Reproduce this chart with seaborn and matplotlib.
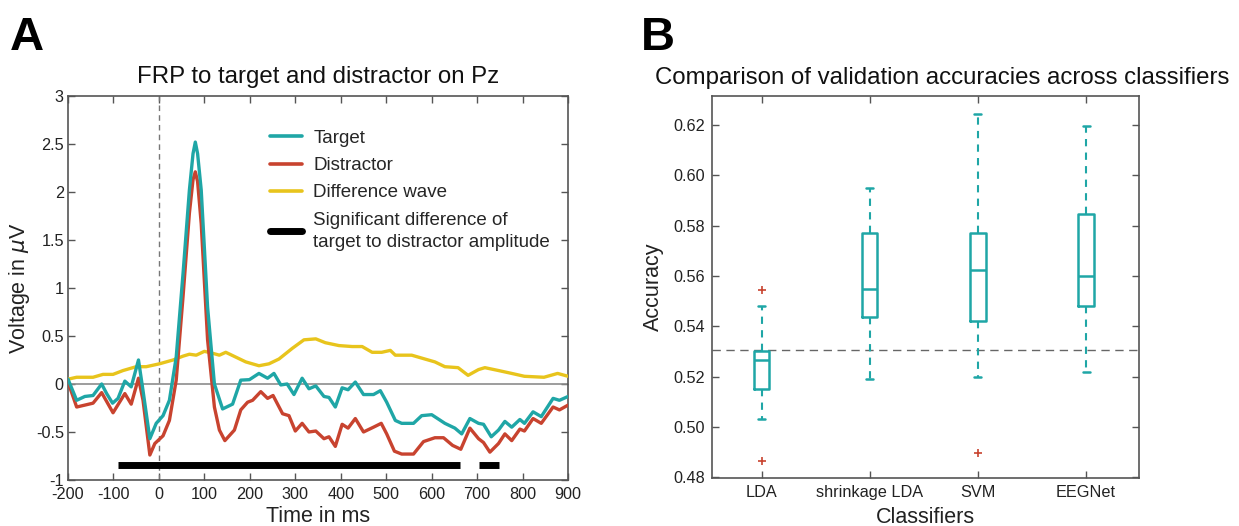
import numpy as np
import pandas as pd
import matplotlib
matplotlib.use("Agg")
import matplotlib.pyplot as plt
from matplotlib.lines import Line2D
import seaborn as sns

# ---- panel A: FRP curves ----
t_target = [-200, -181, -163, -145, -126, -115, -102, -90, -75, -61, -45, -35, -20, -6, 9, 23,
            38, 53, 67, 75, 80, 85, 93, 107, 122, 140, 162, 180, 199, 220, 239, 253, 268, 282,
            297, 315, 330, 345, 363, 374, 388, 403, 416, 432, 450, 472, 487, 501, 520, 534,
            560, 578, 600, 629, 651, 666, 684, 703, 714, 731, 747, 761, 776, 794, 804, 823,
            841, 867, 881, 900]
v_target = [0.05, -0.17, -0.13, -0.12, 0.0, -0.10, -0.20, -0.15, 0.03, -0.03, 0.25, -0.07, -0.57,
            -0.41, -0.33, -0.17, 0.28, 1.15, 2.02, 2.40, 2.52, 2.40, 2.02, 0.80, 0.0, -0.26, -0.21,
            0.04, 0.045, 0.11, 0.06, 0.11, -0.01, 0.0, -0.11, 0.06, -0.05, -0.02, -0.13, -0.14,
            -0.24, -0.04, -0.06, 0.02, -0.11, -0.11, -0.07, -0.19, -0.38, -0.41, -0.41, -0.33,
            -0.32, -0.41, -0.46, -0.52, -0.36, -0.41, -0.42, -0.55, -0.48, -0.39, -0.45, -0.37,
            -0.41, -0.29, -0.34, -0.15, -0.17, -0.13]

t_distr = [-200, -181, -163, -145, -126, -101, -75, -61, -45, -35, -20, -9, 9, 23, 38, 53, 67,
           75, 80, 85, 93, 107, 122, 133, 145, 166, 180, 195, 206, 224, 239, 251, 272, 286, 300,
           315, 330, 345, 363, 374, 388, 403, 416, 432, 450, 472, 489, 501, 518, 534, 560, 582,
           607, 626, 646, 664, 684, 703, 714, 728, 747, 761, 776, 794, 804, 823, 841, 867, 881,
           900]
v_distr = [0.02, -0.24, -0.22, -0.20, -0.09, -0.30, -0.10, -0.21, 0.06, -0.17, -0.74, -0.62,
           -0.54, -0.38, 0.04, 0.91, 1.78, 2.13, 2.21, 2.11, 1.67, 0.46, -0.24, -0.48, -0.59,
           -0.48, -0.27, -0.19, -0.17, -0.08, -0.15, -0.12, -0.31, -0.33, -0.49, -0.41, -0.50,
           -0.49, -0.57, -0.55, -0.65, -0.42, -0.46, -0.36, -0.50, -0.45, -0.41, -0.52, -0.70,
           -0.73, -0.73, -0.60, -0.56, -0.56, -0.64, -0.68, -0.46, -0.57, -0.61, -0.71, -0.62,
           -0.52, -0.59, -0.47, -0.49, -0.36, -0.41, -0.24, -0.27, -0.22]

t_diff = [-200, -181, -145, -123, -101, -79, -50, -28, 1, 31, 53, 67, 82, 100, 118, 133, 147,
          169, 191, 220, 242, 264, 293, 319, 345, 366, 396, 425, 447, 469, 490, 509, 520, 556,
          585, 607, 629, 658, 680, 703, 717, 747, 776, 804, 847, 877, 900]
v_diff = [0.05, 0.07, 0.07, 0.10, 0.10, 0.14, 0.18, 0.18, 0.21, 0.25, 0.29, 0.31, 0.30, 0.34,
          0.32, 0.30, 0.33, 0.28, 0.23, 0.19, 0.21, 0.26, 0.37, 0.46, 0.47, 0.43, 0.40, 0.39,
          0.39, 0.33, 0.33, 0.35, 0.30, 0.30, 0.26, 0.23, 0.18, 0.17, 0.09, 0.15, 0.17, 0.14,
          0.11, 0.08, 0.07, 0.11, 0.08]

sig_start = [-90, 704]
sig_end = [663, 747]
sig_level = -0.84

# ---- panel B: classifier accuracies (box statistics) ----
classifiers = ["LDA", "shrinkage LDA", "SVM", "EEGNet"]
whisker_low = [0.503, 0.519, 0.520, 0.522]
q1 = [0.515, 0.5435, 0.542, 0.548]
median = [0.5265, 0.555, 0.5625, 0.560]
q3 = [0.530, 0.577, 0.577, 0.5845]
whisker_high = [0.548, 0.595, 0.6245, 0.6195]
outliers = [[0.5545, 0.4865], [], [0.4895], []]
chance_level = 0.5307

teal = "#1fa6a6"
red = "#c8432f"
yellow = "#e8c41c"

sns.set_theme(style="ticks")
plt.rcParams["font.family"] = ["Liberation Sans", "DejaVu Sans"]
plt.rcParams["axes.edgecolor"] = "#555555"
plt.rcParams["axes.linewidth"] = 1.2
plt.rcParams["axes.unicode_minus"] = False

fig = plt.figure(figsize=(12.39, 5.26), dpi=100)
axA = fig.add_axes([0.0549, 0.0875, 0.4036, 0.730])
axB = fig.add_axes([0.5747, 0.0913, 0.3446, 0.726])

# panel A
axA.axhline(0, color="#8c8c8c", lw=1.2, zorder=1)
axA.axvline(0, color="#777777", lw=1.0, ls=(0, (4, 3)), zorder=1)
sns.lineplot(x=t_diff, y=v_diff, ax=axA, color=yellow, lw=2.4, zorder=3)
sns.lineplot(x=t_distr, y=v_distr, ax=axA, color=red, lw=2.4, zorder=4)
sns.lineplot(x=t_target, y=v_target, ax=axA, color=teal, lw=2.4, zorder=5)
axA.hlines([sig_level] * len(sig_start), sig_start, sig_end, color="black", lw=5, zorder=6)

axA.set_xlim(-200, 900)
axA.set_ylim(-1, 3)
axA.set_xticks(np.arange(-200, 901, 100))
axA.set_yticks([-1, -0.5, 0, 0.5, 1, 1.5, 2, 2.5, 3])
axA.set_yticklabels(["-1", "-0.5", "0", "0.5", "1", "1.5", "2", "2.5", "3"])
axA.tick_params(direction="in", top=True, right=True, length=5, width=1,
                labelsize=11.7, colors="#555555", labelcolor="#222222", pad=3)
axA.tick_params(axis="x", pad=5)
axA.set_xlabel("Time in ms", fontsize=15.5, color="#222222", labelpad=3)
axA.set_ylabel(r"Voltage in $\mu$V", fontsize=15.5, color="#222222", labelpad=3)
axA.set_title("FRP to target and distractor on Pz", fontsize=17.3, color="#111111", pad=9)

handles = [Line2D([], [], color=teal, lw=2.6),
           Line2D([], [], color=red, lw=2.6),
           Line2D([], [], color=yellow, lw=2.6),
           Line2D([], [], color="black", lw=5)]
labels = ["Target", "Distractor", "Difference wave",
          "Significant difference of\ntarget to distractor amplitude"]
leg = axA.legend(handles, labels, loc="upper left", bbox_to_anchor=(0.404, 0.912), frameon=False,
                 fontsize=13.5, handlelength=1.7, handletextpad=0.6, labelspacing=0.54,
                 borderaxespad=0, borderpad=0)
leg.get_texts()[3].set_linespacing(1.4)

# panel B
positions = [1, 2, 3, 4]
stats = []
for i, name in enumerate(classifiers):
    stats.append(dict(label=name, whislo=whisker_low[i], q1=q1[i], med=median[i],
                      q3=q3[i], whishi=whisker_high[i], fliers=outliers[i]))
axB.bxp(stats, positions=positions, widths=0.14, showfliers=True,
        boxprops=dict(color=teal, lw=1.8),
        medianprops=dict(color=teal, lw=1.8),
        whiskerprops=dict(color=teal, lw=1.5, ls=(0, (3.5, 3))),
        capprops=dict(color=teal, lw=1.8),
        capwidths=0.065,
        flierprops=dict(marker="+", markeredgecolor=red, markersize=5.5, markeredgewidth=1.2))
axB.axhline(chance_level, color="#666666", lw=1.0, ls=(0, (6, 4)), zorder=0)

axB.set_xlim(0.54, 4.49)
axB.set_ylim(0.4797, 0.6315)
axB.set_yticks(np.arange(0.48, 0.621, 0.02))
axB.set_yticklabels([f"{v:.2f}" for v in np.arange(0.48, 0.621, 0.02)])
axB.set_xticks(positions)
axB.set_xticklabels(classifiers)
axB.tick_params(direction="in", top=True, right=True, length=5, width=1,
                labelsize=11.7, colors="#555555", labelcolor="#222222", pad=5)
axB.set_xlabel("Classifiers", fontsize=15.5, color="#222222", labelpad=5)
axB.set_ylabel("Accuracy", fontsize=15.5, color="#222222", labelpad=7)
axB.set_title("Comparison of validation accuracies across classifiers", fontsize=17.3,
              color="#111111", pad=9, x=0.54)

fig.text(0.008, 0.905, "A", fontsize=34, fontweight="bold", color="black")
fig.text(0.517, 0.905, "B", fontsize=34, fontweight="bold", color="black")

fig.savefig("out.png", dpi=100)
